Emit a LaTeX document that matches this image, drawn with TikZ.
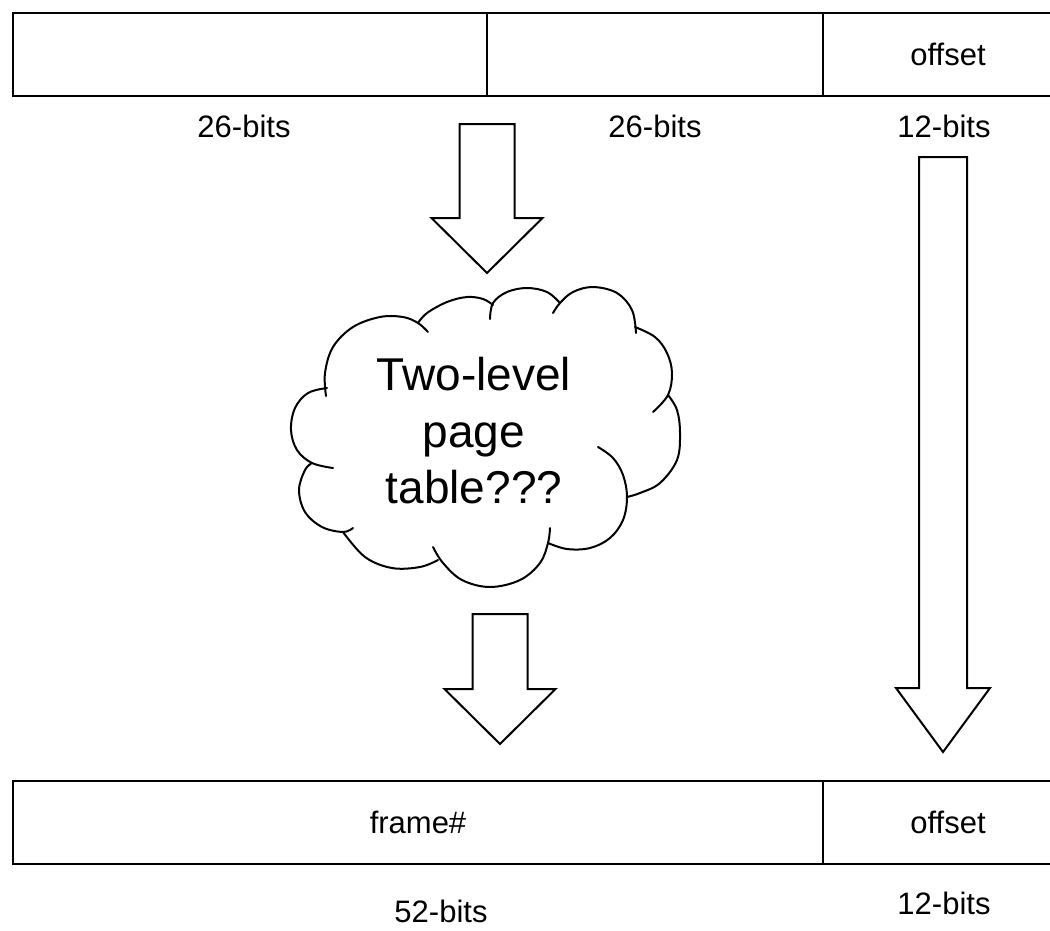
\documentclass[tikz,border=0pt]{standalone}
\usepackage{fontspec}
\setmainfont{Liberation Sans}
\begin{document}
\begin{tikzpicture}[x=1pt,y=-1pt,
  line width=2pt,
  cell/.style={draw=black, rectangle, anchor=north west, minimum height=83, inner sep=0pt,
               font=\fontsize{31}{37}\selectfont},
  bitlabel/.style={anchor=base, inner sep=0pt, font=\fontsize{31}{37}\selectfont},
  blockarrow/.style={draw=black, fill=white, line join=miter},
  bump/.style={draw=black, line cap=round},
  cloudtext/.style={align=center, inner sep=0pt, font=\fontsize{46}{56.5}\selectfont}]
\useasboundingbox (0,0) rectangle (1050,930);

% virtual address fields
\node[cell, minimum width=474] (vpn1) at (12,12) {};
\node[cell, minimum width=336] (vpn2) at (486,12) {};
\node[cell, minimum width=250] (voff) at (822,12) {offset};

\node[bitlabel] (l1) at (244,137) {26-bits};
\node[bitlabel] (l2) at (655,137) {26-bits};
\node[bitlabel] (l3) at (944,137) {12-bits};

% physical address fields
\node[cell, minimum width=810] (frame) at (12,780) {frame\#};
\node[cell, minimum width=250] (poff) at (822,780) {offset};

\node[bitlabel] (l4) at (441,922) {52-bits};
\node[bitlabel] (l5) at (944,914) {12-bits};

% hollow block arrows: centre x, top y, tip y, half shaft, half head, head length
\newcommand\downblock[6]{%
  \draw[blockarrow] ({#1-#4},#2) -- ({#1+#4},#2) -- ({#1+#4},{#3-#6})
    -- ({#1+#5},{#3-#6}) -- (#1,#3) -- ({#1-#5},{#3-#6}) -- ({#1-#4},{#3-#6}) -- cycle;}
\downblock{487}{124}{273}{27.5}{55.5}{55}
\downblock{500}{614}{744}{27.5}{55.5}{55}
\downblock{943}{157}{752}{24}{47}{64}

% cloud outline, one arc per bump
\begin{scope}[smooth, tension=0.6]
\draw[bump] plot coordinates {(326,396) (325,373) (333,347) (353,327) (380,317) (403,317) (418,323) (428,332)};
\draw[bump] plot coordinates {(418,323) (427,313) (447,302) (467,297) (483,299) (493,305)};
\draw[bump] plot coordinates {(490,319) (493,303) (507,292) (527,288) (547,292) (560,303)};
\draw[bump] plot coordinates {(553,313) (560,303) (573,292) (593,287) (617,293) (632,310) (636,333)};
\draw[bump] plot coordinates {(635,327) (655,337) (667,353) (672,373) (668,395) (653,412)};
\draw[bump] plot coordinates {(668,395) (677,410) (680,433) (677,460) (660,483) (640,493) (627,497)};
\draw[bump] plot coordinates {(598,447) (613,458) (623,475) (627,497) (623,520) (610,538) (590,548) (567,549) (548,543)};
\draw[bump] plot coordinates {(550,528) (548,543) (540,563) (520,580) (490,587) (462,580) (443,563) (433,547)};
\draw[bump] plot coordinates {(438,560) (420,567) (392,568) (365,557) (343,532)};
\draw[bump] plot coordinates {(353,528) (343,532) (322,527) (305,512) (299,490) (305,470) (312,463)};
\draw[bump] plot coordinates {(333,468) (312,463) (297,450) (291,430) (295,408) (308,393) (327,388)};
\end{scope}
\node[cloudtext] (pt) at (474,431) {Two-level\\page\\table???};
\end{tikzpicture}
\end{document}
